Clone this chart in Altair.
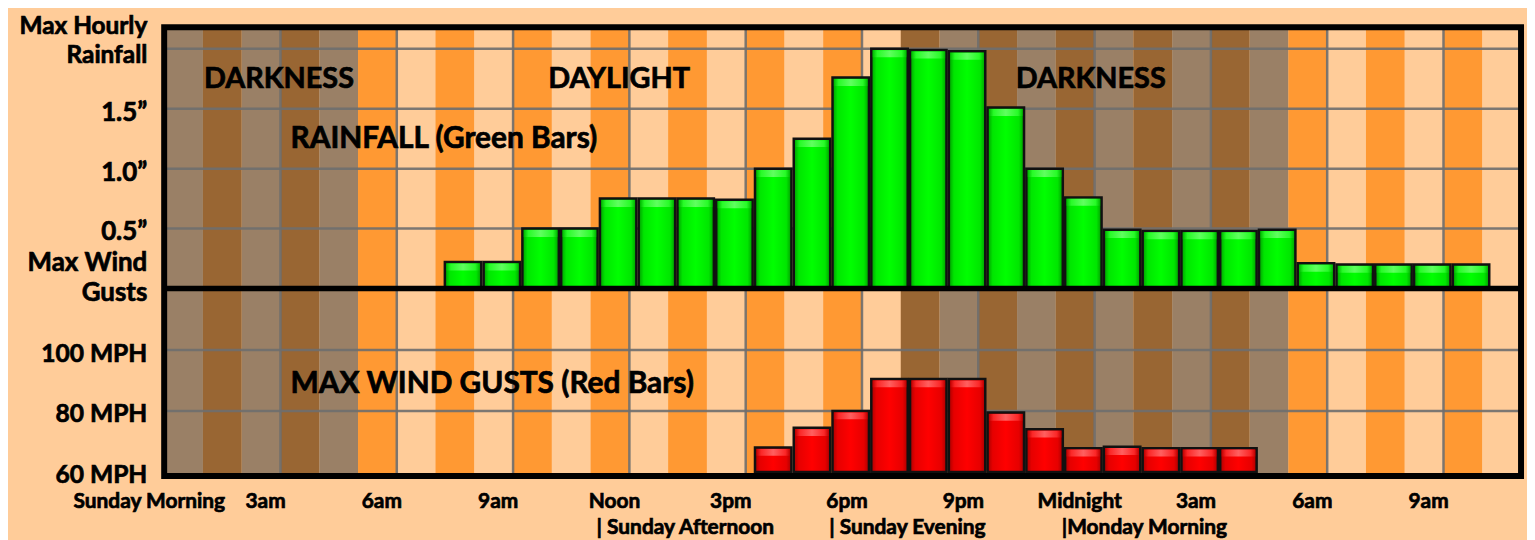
import altair as alt
import pandas as pd

# ---------------- data ----------------
hours = list(range(35))                     # hourly columns: Sunday 00:00 .. Monday 10:00
period = ["dark"] * 5 + ["day"] * 14 + ["dark"] * 10 + ["day"] * 6

rain_hours = list(range(7, 34))
rain_in = [0.22, 0.22, 0.50, 0.50, 0.75, 0.75, 0.75, 0.74, 1.00, 1.25, 1.76, 2.00, 1.99,
           1.98, 1.51, 1.00, 0.76, 0.49, 0.48, 0.48, 0.48, 0.49, 0.21, 0.20, 0.20, 0.20, 0.20]

wind_hours = list(range(15, 28))
wind_mph = [68, 74.5, 80, 90.5, 90.5, 90.5, 79.5, 74, 67.8, 68.3, 67.8, 67.8, 67.8]

grid_hours = [3, 6, 9, 12, 15, 18, 21, 24, 27, 30, 33]
rain_grid = [0.5, 1.0, 1.5, 2.0]
rain_tick_vals = [0.5, 1.0, 1.5]
rain_tick_text = ["0.5\u201d", "1.0\u201d", "1.5\u201d"]
wind_grid = [80, 100]
wind_tick_vals = [60, 80, 100]
wind_tick_text = ["60 MPH", "80 MPH", "100 MPH"]

hour_label_pos = [0, 3, 6, 9, 12, 15, 18, 21, 24, 27, 30, 33]
hour_label_text = ["Sunday Morning", "3am", "6am", "9am", "Noon", "3pm", "6pm", "9pm",
                   "Midnight", "3am", "6am", "9am"]
part_pos = [12, 18, 24]
part_text = ["| Sunday Afternoon", "| Sunday Evening", "|Monday Morning"]

# ---------------- layout / style ----------------
W, H = 1364, 451
FONT = "Lato"
GRID = "#6E6E6E"
TXT = dict(font=FONT, fontWeight="bold", color="black", stroke="black", strokeWidth=0.7)

xs = alt.Scale(domain=[0, 35], nice=False, zero=False)
rain_scale = alt.Scale(domain=[0, 2.18], range=[262.5, 0], nice=False, zero=False)
wind_scale = alt.Scale(domain=[58.7, 120.24], range=[451, 262.5], nice=False, zero=False)

one = alt.Data(values=[{}])


def grad(edge, mid, center):
    return alt.Gradient(
        gradient="linear", x1=0, x2=1, y1=0, y2=0,
        stops=[alt.GradientStop(color=edge, offset=0),
               alt.GradientStop(color=mid, offset=0.14),
               alt.GradientStop(color=center, offset=0.5),
               alt.GradientStop(color=mid, offset=0.86),
               alt.GradientStop(color=edge, offset=1)])


def label(text, x, y, size, align="left", **kw):
    return alt.Chart(one).mark_text(
        text=text, align=align, baseline="alphabetic", fontSize=size, **TXT, **kw
    ).encode(x=alt.value(x), y=alt.value(y))


def bars(hrs, vals, scale, base, band_top, band_bot, colors):
    edge, mid, center, hl_edge, hl_mid, hl_center = colors
    df = pd.DataFrame({"h": hrs, "v": vals})
    body = alt.Chart(df).transform_calculate(
        x0="datum.h + 0.24", x1="datum.h + 1.18", base=str(base)
    ).mark_rect(fill=grad(edge, mid, center), stroke="#111111", strokeWidth=2.5).encode(
        x=alt.X("x0:Q", scale=xs, axis=None), x2="x1:Q",
        y=alt.Y("v:Q", scale=scale, axis=None), y2="base:Q")
    bevel = alt.Chart(df).transform_calculate(
        x0="datum.h + 0.275", x1="datum.h + 1.145",
        t0="datum.v - " + str(band_top), t1="datum.v - " + str(band_bot)
    ).mark_rect(fill=grad(hl_edge, hl_mid, hl_center), opacity=0.85).encode(
        x=alt.X("x0:Q", scale=xs, axis=None), x2="x1:Q",
        y=alt.Y("t0:Q", scale=scale, axis=None), y2="t1:Q")
    return [body, bevel]


background = alt.Chart(one).mark_rect(color="#FFCC99").encode(
    x=alt.value(-157), x2=alt.value(1370), y=alt.value(-17.5), y2=alt.value(514.5))

stripes = alt.Chart(pd.DataFrame({"h": hours, "period": period})).transform_calculate(
    h2="datum.h + 1", shade="datum.period + (datum.h % 2)"
).mark_rect(strokeWidth=0).encode(
    x=alt.X("h:Q", scale=xs, axis=None), x2="h2:Q",
    y=alt.value(0), y2=alt.value(H),
    color=alt.Color("shade:N", legend=None, scale=alt.Scale(
        domain=["dark0", "dark1", "day0", "day1"],
        range=["#9A8066", "#996633", "#FFCC99", "#FF9933"])))

vgrid = alt.Chart(pd.DataFrame({"h": grid_hours})).mark_rule(
    color=GRID, strokeWidth=2.5, opacity=0.9).encode(
    x=alt.X("h:Q", scale=xs, axis=None), y=alt.value(0), y2=alt.value(H))

hgrid_r = alt.Chart(pd.DataFrame({"v": rain_grid})).mark_rule(
    color=GRID, strokeWidth=2.5, opacity=0.9).encode(
    y=alt.Y("v:Q", scale=rain_scale, axis=None), x=alt.value(0), x2=alt.value(W))

hgrid_w = alt.Chart(pd.DataFrame({"v": wind_grid})).mark_rule(
    color=GRID, strokeWidth=2.5, opacity=0.9).encode(
    y=alt.Y("v:Q", scale=wind_scale, axis=None), x=alt.value(0), x2=alt.value(W))

green = bars(rain_hours, rain_in, rain_scale, 0, 0.012, 0.07,
             ("#009A00", "#00E600", "#00FF00", "#00B800", "#2EFF2E", "#70FF70"))
red = bars(wind_hours, wind_mph, wind_scale, 60, 0.45, 2.7,
           ("#A80000", "#E60000", "#FF0000", "#C00000", "#FF2E2E", "#FF7070"))

frame = alt.Chart(one).mark_rect(fillOpacity=0, stroke="black", strokeWidth=6).encode(
    x=alt.value(0), x2=alt.value(W), y=alt.value(0), y2=alt.value(H))

divider = alt.Chart(pd.DataFrame({"v": [0]})).mark_rule(color="black", strokeWidth=5.5).encode(
    y=alt.Y("v:Q", scale=rain_scale, axis=None), x=alt.value(0), x2=alt.value(W))

rain_ticks = alt.Chart(pd.DataFrame({"v": rain_tick_vals, "t": rain_tick_text})).mark_text(
    align="right", baseline="alphabetic", dy=12, fontSize=26, **TXT).encode(
    y=alt.Y("v:Q", scale=rain_scale, axis=None), x=alt.value(-17), text="t:N")

wind_ticks = alt.Chart(pd.DataFrame({"v": wind_tick_vals, "t": wind_tick_text})).mark_text(
    align="right", baseline="alphabetic", dy=11.5, fontSize=24.7, **TXT).encode(
    y=alt.Y("v:Q", scale=wind_scale, axis=None), x=alt.value(-17), text="t:N")

hour_labels = alt.Chart(pd.DataFrame({"h": hour_label_pos, "t": hour_label_text})).mark_text(
    align="center", baseline="alphabetic", dx=-15, fontSize=21, **TXT).encode(
    x=alt.X("h:Q", scale=xs, axis=None), y=alt.value(483.5), text="t:N")

part_labels = alt.Chart(pd.DataFrame({"h": part_pos, "t": part_text})).mark_text(
    align="left", baseline="alphabetic", dx=-33, fontSize=21, **TXT).encode(
    x=alt.X("h:Q", scale=xs, axis=None), y=alt.value(509.5), text="t:N")

texts = [
    label(["Max Hourly", "Rainfall"], -17, 6.5, 24.5, "right", lineHeight=29),
    label("Max Wind", -17, 245.2, 26, "right"),
    label("Gusts", -17, 275.5, 26, "right"),
    label("DARKNESS", 40, 61.5, 29),
    label("DAYLIGHT", 386, 61.5, 29),
    label("DARKNESS", 856, 61.5, 29),
    label("RAINFALL (Green Bars)", 127, 121.5, 30),
    label("MAX WIND GUSTS (Red Bars)", 127, 367.5, 30),
]

chart = alt.layer(
    background, stripes, vgrid, hgrid_r, hgrid_w, *green, *red, frame, divider,
    rain_ticks, wind_ticks, hour_labels, part_labels, *texts
).resolve_scale(y="independent").properties(
    width=W, height=H, padding=0
).configure(background="#FFCC99").configure_view(strokeWidth=0)

chart.save("out.html", embed_options={"renderer": "svg", "actions": False})
